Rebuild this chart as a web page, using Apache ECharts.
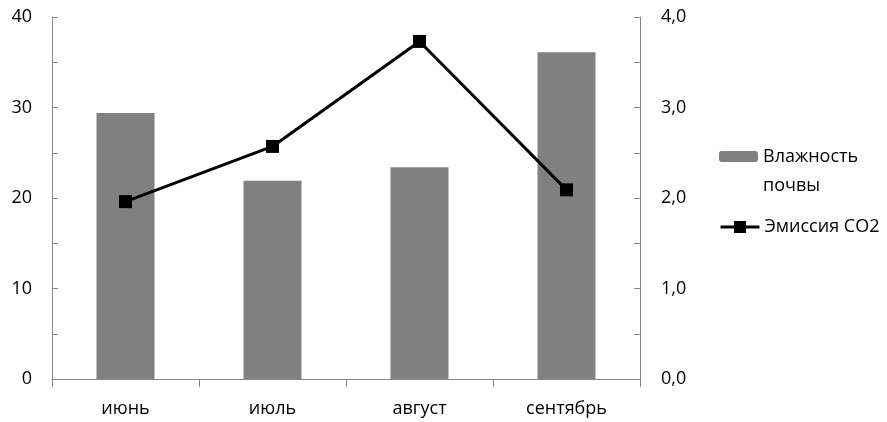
<!DOCTYPE html>
<html>
<head>
<meta charset="utf-8">
<script src="https://cdn.jsdelivr.net/npm/echarts@6/dist/echarts.min.js"></script>
<style>
  html, body { margin: 0; padding: 0; background: #fff; }
  #chart { width: 887px; height: 422px; }
</style>
</head>
<body>
<div id="chart"></div>
<script>
// Months of observation
const months = ['июнь', 'июль', 'август', 'сентябрь'];
// Soil moisture, left axis
const soilMoisture = [29.4, 21.9, 23.4, 36.1];
// CO2 emission, right axis
const co2Emission = [1.96, 2.57, 3.73, 2.09];
// Axis ranges
const leftMax = 40, leftStep = 5;
const rightMax = 4, rightStep = 0.5;

const FONT = '"Open Sans", sans-serif';
const axisGray = '#868686';

const chart = echarts.init(document.getElementById('chart'));
chart.setOption({
  animation: false,
  textStyle: { fontFamily: FONT },
  grid: { left: 52, right: 247, top: 17, bottom: 43, containLabel: false },
  legend: [
    {
      data: ['Влажность почвы'],
      orient: 'vertical',
      left: 719, top: 113,
      padding: 0,
      itemWidth: 39, itemHeight: 11,
      // empty first line keeps the first word level with the swatch
      formatter: function () { return '\nВлажность\nпочвы'; },
      textStyle: { fontFamily: FONT, fontSize: 18, color: '#000', lineHeight: 29 }
    },
    {
      data: ['Эмиссия CO2'],
      orient: 'vertical',
      left: 719, top: 218,
      padding: 0,
      itemWidth: 39, itemHeight: 15,
      lineStyle: { width: 3, color: '#000' },
      textStyle: { fontFamily: FONT, fontSize: 18, color: '#000' }
    }
  ],
  xAxis: {
    type: 'category',
    data: months,
    boundaryGap: true,
    axisLine: { lineStyle: { color: axisGray, width: 1 } },
    axisTick: { show: true, inside: false, length: 8, alignWithLabel: false, lineStyle: { color: axisGray } },
    axisLabel: { color: '#000', fontSize: 18, margin: 21, fontFamily: FONT },
    splitLine: { show: false }
  },
  yAxis: [
    {
      type: 'value',
      min: 0, max: leftMax, interval: leftStep,
      axisLine: { show: true, lineStyle: { color: axisGray } },
      axisTick: { show: true, inside: true, length: 6, lineStyle: { color: axisGray } },
      axisLabel: {
        color: '#000', fontSize: 18, margin: 20, fontFamily: FONT,
        formatter: function (v) { return v % 10 === 0 ? String(v) : ''; }
      },
      splitLine: { show: false }
    },
    {
      type: 'value',
      min: 0, max: rightMax, interval: rightStep,
      position: 'right',
      axisLine: { show: true, lineStyle: { color: axisGray } },
      axisTick: { show: true, inside: true, length: 6, lineStyle: { color: axisGray } },
      axisLabel: {
        color: '#000', fontSize: 18, margin: 21, fontFamily: FONT,
        formatter: function (v) { return Math.abs(v - Math.round(v)) < 1e-9 ? v.toFixed(1).replace('.', ',') : ''; }
      },
      splitLine: { show: false }
    }
  ],
  series: [
    {
      name: 'Влажность почвы',
      type: 'bar',
      yAxisIndex: 0,
      data: soilMoisture,
      barWidth: 58,
      itemStyle: { color: '#808080' }
    },
    {
      name: 'Эмиссия CO2',
      type: 'line',
      yAxisIndex: 1,
      data: co2Emission,
      symbol: 'rect',
      symbolSize: 13,
      lineStyle: { color: '#000', width: 3 },
      itemStyle: { color: '#000' }
    }
  ]
});
</script>
</body>
</html>
